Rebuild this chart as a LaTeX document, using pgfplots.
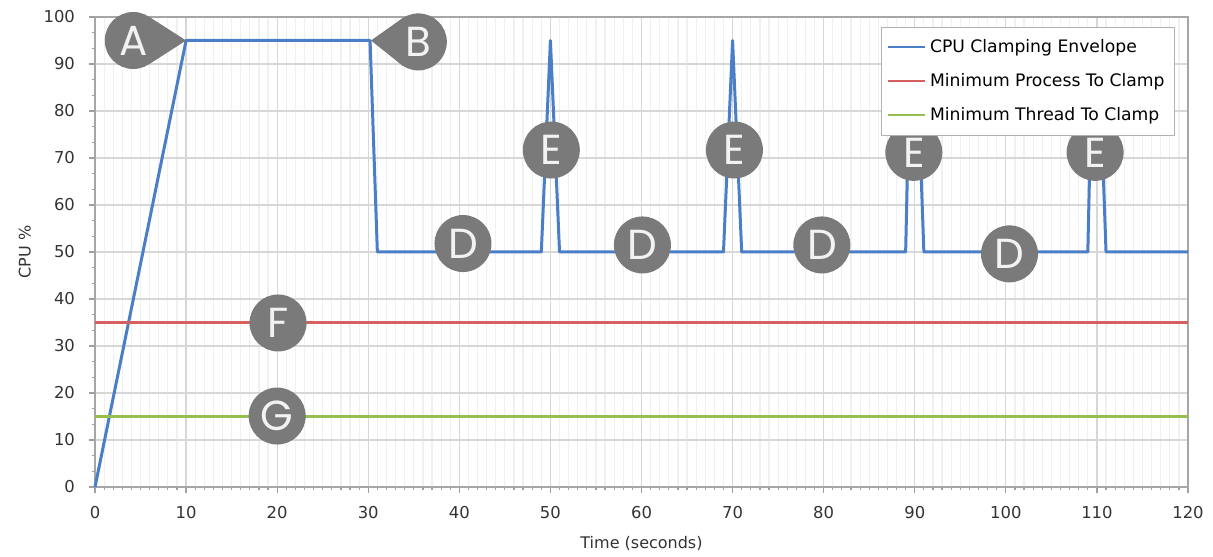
\documentclass[border=0pt]{standalone}
\usepackage{pgfplots}
\pgfplotsset{compat=1.18}
\usepackage{fontspec}
\setmainfont{DejaVu Sans}
\newfontfamily\badgefamily{Poppins}

\definecolor{cpublue}{RGB}{74,126,198}
\definecolor{procred}{RGB}{214,96,96}
\definecolor{thrgreen}{RGB}{150,190,80}
\definecolor{badgegray}{RGB}{122,122,122}
\definecolor{gridmaj}{RGB}{215,215,215}
\definecolor{gridmin}{RGB}{240,240,240}

\newcommand{\badgefont}{\badgefamily\fontsize{21}{21}\selectfont}

\begin{document}
\begin{tikzpicture}[
  badge/.style={circle, fill=badgegray, text=white!95!black, minimum size=28.5pt,
    inner sep=0pt, outer sep=0pt, font=\badgefont}]
\begin{axis}[
  scale only axis,
  width=546.5pt, height=235pt,
  xmin=0, xmax=120, ymin=0, ymax=100,
  xtick={0,10,...,120}, ytick={0,10,...,100},
  minor x tick num=9, minor y tick num=2,
  tick pos=left,
  xmajorgrids=true, ymajorgrids=true, xminorgrids=true,
  major grid style={gridmaj, line width=0.6pt},
  minor grid style={gridmin, line width=0.6pt},
  axis line style={gray!70, line width=0.7pt},
  tick align=outside,
  major tick length=3pt, minor tick length=1.6pt,
  every tick/.style={gray!75, line width=0.6pt},
  tick label style={font=\fontsize{8.2}{9}\selectfont, text=black!80},
  /pgf/number format/assume math mode=true,
  xticklabel style={yshift=-3pt},
  yticklabel style={xshift=-3.5pt},
  xlabel={Time (seconds)}, ylabel={CPU \%},
  label style={font=\fontsize{8}{9}\selectfont, text=black!80},
  xlabel style={yshift=-2pt},
  ylabel style={yshift=-0.5pt},
  clip=false,
  legend cell align=left,
  legend style={at={(rel axis cs:0.988,0.979)}, anchor=north east,
    draw=gray!60, fill=white, font=\fontsize{8.6}{9}\selectfont,
    row sep=5pt, inner xsep=3pt, inner ysep=4pt},
  legend image code/.code={\draw[#1, line width=1pt] (0pt,0pt) -- (18.5pt,0pt);},
]
\addplot[cpublue, line width=1.5pt, line join=round] coordinates {
  (0,0) (10,95) (30.2,95) (31,50) (49,50) (50,95) (51,50)
  (69,50) (70,95) (71,50)
  (89,50) (89.25,72) (90.6,72) (91,50)
  (109,50) (109.25,72) (110.6,72) (111,50) (120,50)
};
\addlegendentry{CPU Clamping Envelope}
\addplot[procred, line width=1.5pt] coordinates {(0,35) (120,35)};
\addlegendentry{Minimum Process To Clamp}
\addplot[thrgreen, line width=1.5pt] coordinates {(0,15) (120,15)};
\addlegendentry{Minimum Thread To Clamp}

% callout badges
\coordinate (ac) at (axis cs:4.2,95);
\coordinate (bc) at (axis cs:35.5,94.7);
\fill[badgegray] (axis cs:10,95) -- ([shift={(57:14.25pt)}]ac) -- ([shift={(-57:14.25pt)}]ac) -- cycle;
\fill[badgegray] (axis cs:30.3,95) -- ([shift={(123:14.25pt)}]bc) -- ([shift={(-123:14.25pt)}]bc) -- cycle;
\node[badge] at (ac) {A};
\node[badge] at (bc) {B};
\node[badge] at (axis cs:40.4,51.8) {D};
\node[badge] at (axis cs:60.1,51.5) {D};
\node[badge] at (axis cs:79.8,51.5) {D};
\node[badge] at (axis cs:100.4,49.6) {D};
\node[badge] at (axis cs:50.1,71.7) {E};
\node[badge] at (axis cs:70.2,71.7) {E};
\node[badge] at (axis cs:89.9,71.2) {E};
\node[badge] at (axis cs:109.8,71.2) {E};
\node[badge] at (axis cs:20.1,34.9) {F};
\node[badge] at (axis cs:20,15.1) {G};
\end{axis}
\pgfresetboundingbox
\path[use as bounding box] ([xshift=-47.5pt,yshift=-34.5pt]current axis.south west)
  rectangle ([xshift=12.5pt,yshift=8.5pt]current axis.north east);
\end{tikzpicture}
\end{document}
